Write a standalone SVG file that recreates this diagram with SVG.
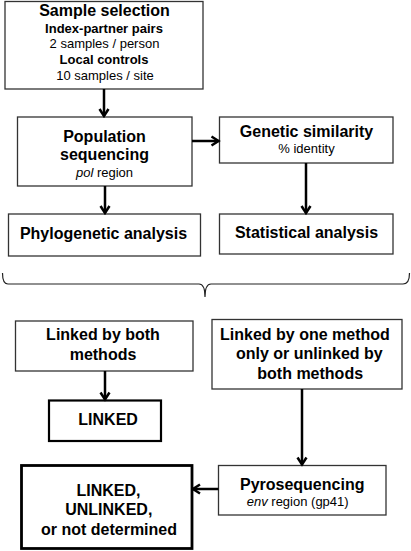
<svg xmlns="http://www.w3.org/2000/svg" width="411" height="551" viewBox="0 0 411 551">
<style>
text{font-family:"Liberation Sans",Arial,sans-serif;fill:#000}
.h{font-size:16px;font-weight:bold}
.b{font-size:13px;font-weight:bold}
.r{font-size:13px}
.c{text-anchor:middle}
.box{fill:#fff;stroke:#333;stroke-width:1.3}
.box2{fill:#fff;stroke:#000;stroke-width:2.2}
.box3{fill:#fff;stroke:#000;stroke-width:2.8}
.arr{stroke:#000;stroke-width:2.5;fill:none;marker-end:url(#ah)}
</style>
<defs>
<marker id="ah" markerUnits="userSpaceOnUse" markerWidth="12" markerHeight="12" viewBox="0 0 12 12" refX="10" refY="6" orient="auto">
<path d="M3,1.5 L10,6 L3,10.5" fill="none" stroke="#000" stroke-width="2.5"/>
</marker>
</defs>
<g id="sample">
<rect class="box" x="5" y="1.5" width="198" height="87.5"/>
<text class="h c" x="104.5" y="16">Sample selection</text>
<text class="b c" x="104" y="33">Index-partner pairs</text>
<text class="r c" x="104.5" y="48">2 samples / person</text>
<text class="b c" x="104" y="64">Local controls</text>
<text class="r c" x="105" y="80">10 samples / site</text>
</g>
<g id="popseq">
<rect class="box" x="17.5" y="117" width="174.5" height="69"/>
<text class="h c" x="104.5" y="141.5">Population</text>
<text class="h c" x="104.5" y="160">sequencing</text>
<text class="r c" x="104.5" y="176.5"><tspan font-style="italic">pol</tspan> region</text>
</g>
<g id="genetic">
<rect class="box" x="219.5" y="117" width="173.5" height="46"/>
<text class="h c" x="306.5" y="136.5">Genetic similarity</text>
<text class="r c" x="306.5" y="153">% identity</text>
</g>
<g id="phylo">
<rect class="box" x="8.5" y="214" width="192" height="42"/>
<text class="h c" x="103.5" y="238.5">Phylogenetic analysis</text>
</g>
<g id="stat">
<rect class="box" x="219.5" y="214" width="173.5" height="40"/>
<text class="h c" x="306.5" y="237.5">Statistical analysis</text>
</g>
<g id="brace">
<path d="M2.5,273 Q2.5,284 8,284 L199,284 Q205,284 205,297 Q205,284 211,284 L403,284 Q409.5,284 409.5,273" fill="none" stroke="#222" stroke-width="1.2"/>
</g>
<g id="linkedboth">
<rect class="box" x="15.5" y="321" width="177.5" height="50"/>
<text class="h c" x="103" y="340">Linked by both</text>
<text class="h c" x="103" y="359.5">methods</text>
</g>
<g id="linkedone">
<rect class="box" x="212" y="319.5" width="190" height="69.5"/>
<text class="h" x="220" y="340">Linked by one method</text>
<text class="h" x="236" y="359">only or unlinked by</text>
<text class="h" x="257.3" y="378.5">both methods</text>
</g>
<g id="linked">
<rect class="box2" x="49" y="400.5" width="112" height="40.5"/>
<text class="h" x="78.3" y="425">LINKED</text>
</g>
<g id="pyro">
<rect class="box" x="218.5" y="465.5" width="167.5" height="49.5"/>
<text class="h c" x="302.2" y="490">Pyrosequencing</text>
<text class="r c" x="297.7" y="506"><tspan font-style="italic">env</tspan> region (gp41)</text>
</g>
<g id="final">
<rect class="box3" x="21.5" y="465.5" width="170.5" height="83"/>
<text class="h c" x="108.5" y="496">LINKED,</text>
<text class="h c" x="108.8" y="515">UNLINKED,</text>
<text class="h c" x="109" y="534.5">or not determined</text>
</g>
<g id="connectors">
<line class="arr" x1="104" y1="89" x2="104" y2="116"/>
<line class="arr" x1="192" y1="141" x2="218.5" y2="141"/>
<line class="arr" x1="306" y1="163" x2="306" y2="213"/>
<line class="arr" x1="105" y1="186" x2="105" y2="213"/>
<line class="arr" x1="105" y1="371" x2="105" y2="399.5"/>
<line class="arr" x1="302" y1="389" x2="302" y2="464.5"/>
<line class="arr" x1="218.5" y1="489" x2="193" y2="489"/>
</g>
</svg>
